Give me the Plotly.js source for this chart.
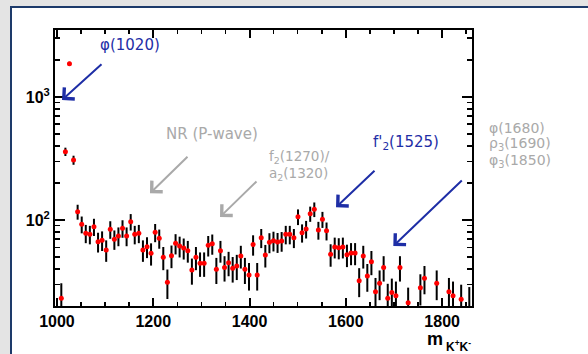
<!DOCTYPE html>
<html>
<head>
<meta charset="utf-8">
<script src="https://cdn.plot.ly/plotly-3.0.1.min.js"></script>
<style>
  html, body { margin:0; padding:0; width:588px; height:354px; overflow:hidden; background:#e4e4e4; }
  #panel { position:absolute; left:10px; top:6px; width:700px; height:500px; background:#ffffff;
           border-left:2px solid #1d3a6a; border-top:2px solid #1d3a6a; }
  #chart { position:absolute; left:0; top:0; width:588px; height:354px; }
</style>
</head>
<body>
<div id="panel"></div>
<div id="chart"></div>
<script>
// m(K+K-) bin centres (MeV) and events per bin
const massBins = [1009.1,1017.6,1026.0,1034.5,1043.0,1051.5,1059.9,1068.4,1076.9,1085.4,
  1093.8,1102.3,1110.8,1119.3,1127.7,1136.2,1144.7,1153.2,1161.6,1170.1,
  1178.6,1187.1,1195.5,1204.0,1212.5,1220.9,1229.4,1237.9,1246.4,1254.8,
  1263.3,1271.8,1280.3,1288.7,1297.2,1305.7,1314.2,1322.6,1331.1,1339.6,
  1348.1,1356.5,1365.0,1373.5,1381.9,1390.4,1398.9,1407.4,1415.9,1424.3,
  1432.8,1441.3,1449.7,1458.2,1466.7,1475.2,1483.6,1492.1,1500.6,1509.1,
  1517.5,1526.0,1534.5,1543.0,1551.4,1559.9,1568.4,1576.9,1585.3,1593.8,
  1602.3,1610.8,1619.2,1627.7,1636.2,1644.6,1653.1,1661.6,1670.1,1678.5,
  1687.0,1695.5,1704.0,1712.4,1729.4,1754.8,1763.3,1788.7,1814.1,1822.6,
  1839.5,1856.4];
const counts = [23.1,359,1865,307,116.8,92.3,78.0,76.5,88.2,66.6,
  68.4,57.0,84.0,69.7,74.1,85.6,74.1,96.9,76.5,78.0,
  57.0,60.7,53.6,79.4,71.0,49.7,31.2,51.3,64.6,61.4,
  59.2,56.3,39.2,49.7,44.5,44.5,62.3,64.2,39.7,56.3,
  41.2,45.0,40.5,42.3,51.0,39.7,35.7,63.2,35.7,71.8,
  51.9,65.9,67.9,66.2,67.5,76.5,76.5,71.8,106.4,78.8,
  84.5,112.5,122.2,82.9,101.3,81.8,52.6,60.3,59.5,60.3,
  52.2,53.9,53.9,32.1,51.0,35.0,45.8,26.1,30.6,41.2,
  23.1,25.8,24.2,41.2,21.3,28.2,33.6,30.6,26.1,24.2,
  22.7,17];
const countErrors = [7.5,28,65,26,16.2,14.4,13.2,13.1,14.1,12.2,
  12.4,11.3,13.7,12.5,12.9,13.9,12.9,14.8,13.1,13.2,
  11.3,11.7,11.0,13.4,12.6,10.6,8.4,10.7,12.1,11.8,
  11.5,11.3,9.4,10.6,10.0,10.0,11.8,12.0,9.5,11.3,
  9.6,10.1,9.5,9.8,10.7,9.5,9.0,11.9,9.0,12.7,
  10.8,12.2,12.4,12.2,12.3,13.1,13.1,12.7,15.5,13.3,
  13.8,15.9,16.6,13.7,15.1,13.6,10.9,11.6,11.6,11.6,
  10.8,11.0,11.0,8.5,10.7,8.9,10.2,7.7,8.3,9.6,
  7.2,7.6,7.4,9.6,6.9,8.0,8.7,8.3,7.7,7.4,
  7.1,11.5];
const yTickVals = [100, 1000];
const yTickText = ['10<sup>2</sup>', '10<sup>3</sup>'];

const BLUE = '#1e2ea6';
const GREY = '#a9a9a9';
const TXT = 'DejaVu Sans, sans-serif';
const TICKFONT = {family:'Liberation Sans Narrow, Arial Narrow, Liberation Sans, sans-serif', size:16, weight:'bold', color:'#000'};

const trace = {
  x: massBins, y: counts, type:'scatter', mode:'markers',
  marker:{color:'#ff0000', size:5, line:{width:0}},
  error_y:{type:'data', array:countErrors, visible:true, color:'#000', thickness:2, width:0},
  hoverinfo:'skip', showlegend:false, cliponaxis:true
};

function lbl(text, x, y, color, size, xanchor, extra) {
  return Object.assign({text:text, xref:'paper', yref:'paper', x:x, y:y, showarrow:false,
    xanchor:xanchor||'center', yanchor:'middle', font:{family:TXT, size:size, color:color}}, extra||{});
}
function arr(x, y, ax, ay, color) {
  return {text:'', xref:'paper', yref:'paper', x:x, y:y, ax:ax, ay:ay, showarrow:true,
    arrowhead:4, arrowsize:1.5, arrowwidth:2, arrowcolor:color, standoff:0, startstandoff:0,
    font:{size:1}};
}

const layout = {
  width:588, height:354,
  margin:{l:55, r:116, t:30, b:48, pad:0},
  paper_bgcolor:'rgba(0,0,0,0)', plot_bgcolor:'#ffffff',
  xaxis:{range:[996, 1862], showgrid:false, zeroline:false,
    showline:true, linecolor:'#000', linewidth:2, mirror:'allticks',
    ticks:'inside', ticklen:8, tickwidth:2, tickcolor:'#000',
    tick0:1000, dtick:200, tickfont:TICKFONT,
    minor:{ticks:'inside', ticklen:4, tickwidth:1.5, tickcolor:'#000', dtick:50, tick0:1000, showgrid:false}},
  yaxis:{type:'log', range:[Math.log10(20), Math.log10(3500)], showgrid:false, zeroline:false,
    showline:true, linecolor:'#000', linewidth:2, mirror:'allticks',
    ticks:'inside', ticklen:10, tickwidth:2, tickcolor:'#000',
    tickmode:'array', tickvals:yTickVals, ticktext:yTickText, tickfont:TICKFONT,
    minor:{ticks:'inside', ticklen:5, tickwidth:1.5, tickcolor:'#000', dtick:'D1', showgrid:false}},
  annotations:[
    lbl('φ(1020)', 0.1799, 0.9457, BLUE, 15),
    arr(0.0168, 0.7464, 41, -37, BLUE),
    lbl('NR (P-wave)', 0.3753, 0.6232, GREY, 15),
    arr(0.2278, 0.4083, 39, -38, GREY),
    lbl('f<sub>2</sub>(1270)/', 0.5084, 0.5390, GREY, 13.5, 'left'),
    lbl('a<sub>2</sub>(1320)', 0.5084, 0.4800, GREY, 13.5, 'left'),
    arr(0.3957, 0.3225, 38, -37, GREY),
    lbl("f'<sub>2</sub>(1525)", 0.8417, 0.5917, BLUE, 15),
    arr(0.6739, 0.3576, 40, -38, BLUE),
    lbl('φ(1680)', 1.036, 0.6438, GREY, 14, 'left'),
    lbl('ρ<sub>3</sub>(1690)', 1.036, 0.5870, GREY, 14, 'left'),
    lbl('φ<sub>3</sub>(1850)', 1.036, 0.5264, GREY, 14, 'left'),
    arr(0.8113, 0.2174, 70, -67, BLUE),
    lbl('<b>m</b>', 0.9110, -0.1180, '#000', 18, 'center',
        {font:{family:'Liberation Sans, Arial, sans-serif', size:18, color:'#000'}}),
    lbl('<b>K<sup>+</sup>K<sup>-</sup></b>', 0.9335, -0.146, '#000', 12, 'left',
        {font:{family:'Liberation Sans, Arial, sans-serif', size:12, color:'#000'}})
  ]
};

Plotly.newPlot('chart', [trace], layout, {staticPlot:true, displayModeBar:false});
</script>
</body>
</html>
